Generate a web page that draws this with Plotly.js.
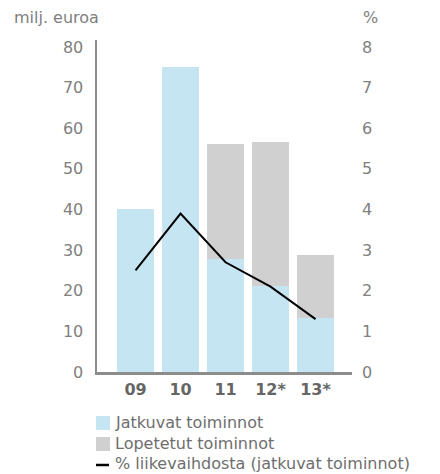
<!DOCTYPE html>
<html><head><meta charset="utf-8">
<script src="https://cdn.plot.ly/plotly-3.0.1.min.js"></script>
<style>html,body{margin:0;padding:0;background:#fff}#c{width:440px;height:474px}</style>
</head><body><div id="c"></div>
<script>
const categories = ['09','10','11','12*','13*'];
const continuing = [40.1, 75.0, 27.8, 21.2, 13.3];
const discontinued = [0, 0, 28.4, 35.4, 15.5];
const pctOfRevenue = [2.5, 3.9, 2.7, 2.1, 1.3];
const seriesNames = ['Jatkuvat toiminnot', 'Lopetetut toiminnot', '% liikevaihdosta (jatkuvat toiminnot)'];
const leftTicks = [0,10,20,30,40,50,60,70,80];
const rightTicks = [0,1,2,3,4,5,6,7,8];

const FONT = '"DejaVu Sans", sans-serif';
const BLUE = '#c5e5f2', GREY = '#d0d0d0';
const L = 97, R = 88, T = 40, B = 102, W = 440, H = 474;
const PW = W - L - R, PH = H - T - B;
const px = v => (v - L) / PW;            // pixel x -> paper
const py = v => (H - B - v) / PH;        // pixel y -> paper

const data = [
  {type:'bar', x:categories, y:continuing, name:seriesNames[0], marker:{color:BLUE}},
  {type:'bar', x:categories, y:discontinued, name:seriesNames[1], marker:{color:GREY}},
  {type:'scatter', mode:'lines', x:categories, y:pctOfRevenue, yaxis:'y2', name:seriesNames[2], line:{color:'#000', width:2}}
];

const legendRows = [423, 443.5, 463];
const shapes = [
  {type:'rect', xref:'paper', yref:'paper', x0:px(96), x1:px(110), y0:py(430), y1:py(416), fillcolor:BLUE, line:{width:0}},
  {type:'rect', xref:'paper', yref:'paper', x0:px(96), x1:px(110), y0:py(451), y1:py(437), fillcolor:GREY, line:{width:0}},
  {type:'line', xref:'paper', yref:'paper', x0:px(96), x1:px(109), y0:py(465), y1:py(465), line:{color:'#000', width:2.5}}
];
const annotations = seriesNames.map((n, i) => ({
  xref:'paper', yref:'paper', x:px(113), y:py(legendRows[i]), xanchor:'left', yanchor:'middle',
  text:n, showarrow:false, font:{family:FONT, size:16, color:'#6e6e6e'}
}));
annotations.push(
  {xref:'paper', yref:'paper', x:px(12), y:py(17), xanchor:'left', yanchor:'middle',
   text:'milj. euroa', showarrow:false, font:{family:FONT, size:16, color:'#808080'}},
  {xref:'paper', yref:'paper', x:px(361), y:py(17), xanchor:'left', yanchor:'middle',
   text:'%', showarrow:false, font:{family:FONT, size:16, color:'#808080'}}
);

const layout = {
  width:W, height:H,
  margin:{l:L, r:R, t:T, b:B},
  paper_bgcolor:'#fff', plot_bgcolor:'#fff',
  barmode:'stack', bargap:0.18,
  font:{family:FONT, size:16, color:'#808080'},
  showlegend:false,
  xaxis:{type:'category', range:[-0.856, 4.81], showgrid:false, zeroline:false,
    showline:true, linecolor:'#8c8c8c', linewidth:2.5, ticks:'',
    tickfont:{family:FONT, size:16, color:'#666', weight:'bold'}, ticklabelstandoff:1},
  yaxis:{range:[0,81.7], tickvals:leftTicks, showgrid:false, zeroline:false,
    showline:true, linecolor:'#8c8c8c', linewidth:2.5, ticks:'', ticklabelstandoff:8,
    tickfont:{family:FONT, size:16, color:'#808080'}},
  yaxis2:{range:[0,8.17], tickvals:rightTicks, overlaying:'y', side:'right', showgrid:false,
    zeroline:false, showline:false, ticks:'', ticklabelstandoff:9,
    tickfont:{family:FONT, size:16, color:'#808080'}},
  shapes:shapes,
  annotations:annotations
};
Plotly.newPlot('c', data, layout, {displayModeBar:false, staticPlot:true});
</script></body></html>
